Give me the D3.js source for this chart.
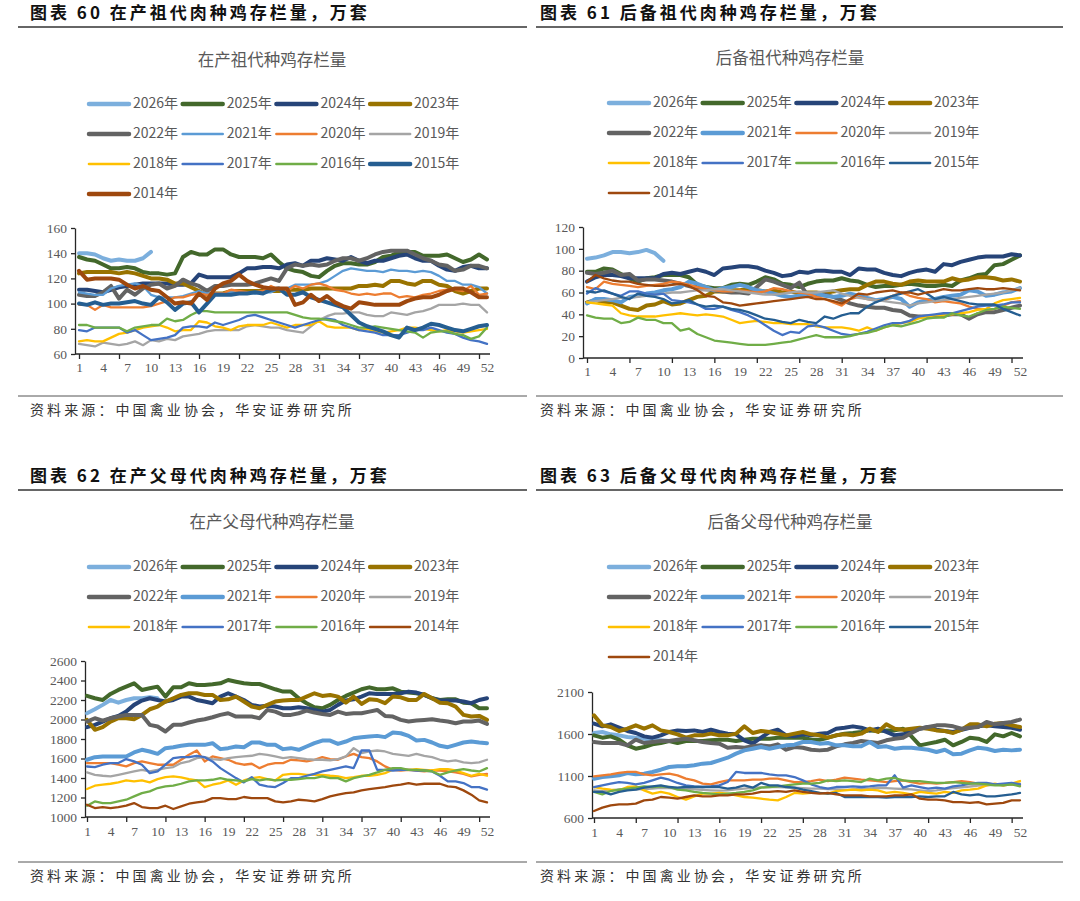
<!DOCTYPE html>
<html>
<head>
<meta charset="utf-8">
<title>肉种鸡存栏量</title>
<style>
  html, body { margin: 0; padding: 0; background: #fff; }
  svg { display: block; }
</style>
</head>
<body>
<svg width="1080" height="901"></svg>
<script src="https://d3js.org/d3.v7.min.js"></script>
<script>
// ---------- data ----------
var weeks = [1,2,3,4,5,6,7,8,9,10,11,12,13,14,15,16,17,18,19,20,21,22,23,24,25,26,
             27,28,29,30,31,32,33,34,35,36,37,38,39,40,41,42,43,44,45,46,47,48,49,50,51,52];
var yearLabels = ['2026年','2025年','2024年','2023年','2022年','2021年','2020年','2019年','2018年','2017年','2016年','2015年','2014年'];

// 在产祖代 (万套)
var gpProd2026 = [140,140,139,136,134,135,134,134,136,141];
var gpProd2025 = [137,135,134,131,128,128,129,128,125,124,124,123,124,137,141,139,139,143,143,139,137,137,137,136,139,133,128,126,125,122,121,126,130,132,132,131,131,133,137,138,141,141,141,138,138,138,139,136,133,135,139,135];
var gpProd2024 = [111,111,110,109,111,113,114,115,116,116,116,116,115,115,116,123,121,121,121,121,124,128,128,129,129,128,131,132,130,134,134,136,135,134,137,134,132,134,134,136,138,139,136,134,134,130,127,126,129,130,128,128];
var gpProd2023 = [124,125,125,125,125,124,125,124,122,120,120,119,116,116,113,110,107,108,108,110,110,110,110,110,110,110,111,111,111,112,112,112,112,112,112,114,114,115,114,118,118,116,115,118,118,115,114,110,108,110,112,112];
var gpProd2022 = [107,106,106,109,114,104,111,107,112,115,116,112,114,119,116,114,110,114,114,115,115,115,116,118,120,118,128,131,130,131,130,131,134,136,136,134,136,139,141,142,142,142,139,136,134,131,130,126,127,130,130,128];
var gpProd2021 = [109,108,107,107,112,114,115,116,114,107,105,105,105,106,108,110,108,108,108,109,109,109,108,109,109,112,112,115,115,115,116,118,122,126,128,127,126,126,125,127,126,126,125,126,125,122,118,118,115,115,113,108];
var gpProd2020 = [99,99,95,99,97,97,97,97,97,98,100,102,105,105,107,108,107,108,108,111,110,109,109,110,114,111,110,114,112,115,116,114,111,110,108,107,108,107,108,108,105,106,105,107,108,110,111,111,110,114,107,108];
var gpProd2019 = [68,67,66,69,68,67,68,70,67,71,70,72,71,74,75,76,78,79,79,79,79,82,83,82,81,81,79,78,77,82,87,90,92,92,93,93,91,90,90,93,92,91,93,94,96,99,99,99,100,99,99,93];
var gpProd2018 = [70,71,70,70,73,76,77,79,81,82,83,81,78,79,79,86,85,82,81,79,82,83,83,83,85,83,81,83,83,83,86,82,81,81,81,79,80,78,77,78,79,81,81,80,79,78,79,78,77,78,79,80];
var gpProd2017 = [79,78,81,81,81,81,77,79,75,71,72,73,75,81,82,82,81,85,83,85,87,90,91,89,87,85,83,81,83,85,87,88,87,83,81,79,78,77,75,75,75,77,79,79,81,79,77,76,73,71,70,68];
var gpProd2016 = [83,83,81,81,81,81,78,81,82,83,83,88,86,87,91,94,94,93,93,93,93,93,93,93,93,93,93,91,89,88,88,87,86,85,83,81,81,82,81,80,79,78,77,73,77,78,78,76,75,72,74,81];
var gpProd2015 = [100,99,101,99,100,100,101,102,100,99,105,101,95,100,101,93,100,107,107,107,108,108,109,108,111,112,107,107,109,105,103,101,99,97,91,85,82,80,78,75,73,81,79,81,84,83,81,79,78,80,82,83];
var gpProd2014 = [126,119,120,120,120,119,115,112,114,111,110,105,100,101,100,108,103,112,116,118,123,118,115,113,112,112,112,99,101,107,102,106,101,98,96,101,100,99,99,99,99,102,104,105,105,107,110,112,112,109,105,105];

// 后备祖代 (万套)
var gpRes2026 = [91,92,94,97,97,96,97,99,96,89];
var gpRes2025 = [79,79,82,81,77,73,70,73,74,76,76,76,74,67,65,64,64,67,68,67,70,74,72,68,67,65,68,70,71,71,73,71,70,67,65,66,66,67,68,67,66,66,67,66,71,73,76,77,85,86,90,94];
var gpRes2024 = [70,74,76,76,75,73,73,73,73,77,78,77,79,81,79,76,82,83,84,84,83,80,78,75,76,79,78,80,80,79,79,76,82,81,81,78,76,75,78,80,81,79,86,85,88,90,92,93,93,93,95,94];
var gpRes2023 = [51,53,51,51,48,45,44,48,49,52,49,50,53,56,57,61,61,62,62,63,62,61,62,60,61,59,60,60,59,61,62,63,63,67,70,70,68,67,70,71,70,70,70,73,71,72,74,74,73,71,72,70];
var gpRes2022 = [78,77,78,80,76,77,71,72,72,71,70,68,66,64,63,62,61,60,60,59,65,72,70,67,64,69,57,58,58,56,53,50,48,47,46,46,44,43,39,38,38,38,39,40,40,36,40,42,42,44,46,48];
var gpRes2021 = [50,54,54,53,51,56,57,59,60,62,63,65,70,68,65,62,64,65,67,65,62,61,59,57,56,57,58,59,57,56,57,59,57,55,53,54,56,54,47,51,53,54,56,57,58,62,61,57,58,60,61,64];
var gpRes2020 = [65,63,70,68,67,66,65,66,67,68,70,69,67,65,63,62,61,61,62,61,60,61,64,63,61,60,59,56,54,51,48,54,56,54,53,53,57,60,57,55,54,51,52,51,50,47,45,44,45,48,51,52];
var gpRes2019 = [51,52,53,54,55,55,56,57,58,59,60,60,61,62,62,63,63,62,61,60,59,58,58,59,60,61,60,60,61,62,59,57,55,54,53,52,51,50,48,50,51,52,53,54,55,56,57,58,59,60,62,64];
var gpRes2018 = [51,50,49,48,41,39,38,38,38,39,40,41,40,39,40,39,38,35,32,33,34,33,32,32,31,31,31,29,28,28,28,27,25,28,25,28,30,32,33,36,38,39,39,40,41,42,44,45,50,53,54,55];
var gpRes2017 = [59,64,61,59,57,61,61,59,58,59,53,52,51,49,45,45,47,44,42,39,35,30,25,21,24,23,29,30,28,25,22,21,22,24,27,30,32,32,34,38,39,40,41,41,43,45,47,48,48,49,51,51];
var gpRes2016 = [39,37,36,36,32,33,37,35,35,32,32,25,27,22,19,16,15,14,13,12,12,12,13,14,15,17,19,21,19,19,19,20,22,23,25,28,30,29,31,33,36,37,37,41,39,38,41,44,45,47,46,45];
var gpRes2015 = [61,60,62,59,56,54,59,57,56,54,50,51,53,49,47,48,47,45,44,42,39,36,35,33,32,35,33,32,38,36,39,41,41,47,51,54,57,59,61,63,59,54,56,54,52,50,49,49,49,45,42,39];
var gpRes2014 = [70,76,73,71,70,70,68,67,66,66,67,68,66,62,57,56,51,50,48,49,50,51,52,53,54,55,56,54,54,52,50,54,59,58,60,61,62,60,60,58,60,61,63,62,62,63,64,63,63,64,63,62];

// 在产父母代 (万套)
var ppProd2026 = [2064,2105,2150,2200,2173,2200,2218,2218,2228,2218];
var ppProd2025 = [2242,2218,2200,2262,2303,2337,2371,2303,2320,2337,2235,2330,2330,2371,2354,2354,2361,2371,2405,2388,2371,2364,2364,2337,2310,2286,2286,2218,2167,2126,2115,2150,2200,2242,2276,2310,2330,2310,2310,2320,2286,2276,2269,2252,2218,2200,2207,2207,2173,2167,2115,2115];
var ppProd2024 = [1921,1945,1979,2013,2037,2081,2150,2194,2218,2200,2184,2200,2235,2235,2200,2184,2167,2235,2269,2235,2200,2150,2133,2140,2133,2115,2115,2126,2115,2098,2081,2098,2150,2194,2207,2235,2269,2262,2262,2262,2269,2286,2276,2252,2218,2194,2194,2194,2184,2167,2200,2218];
var ppProd2023 = [1996,1894,1921,1979,2013,2013,2003,2047,2105,2133,2184,2218,2252,2269,2269,2252,2252,2200,2207,2235,2184,2133,2115,2150,2184,2194,2200,2200,2235,2269,2242,2252,2235,2173,2235,2160,2207,2200,2167,2235,2228,2200,2200,2262,2218,2173,2167,2133,2047,2030,2037,1996];
var ppProd2022 = [1979,2013,1989,2013,2030,2047,2047,2047,1945,1928,1877,1945,1945,1969,1989,2003,2023,2047,2064,2030,2030,2030,2013,2098,2081,2047,2047,2064,2091,2071,2057,2047,2081,2057,2064,2064,2081,2098,2037,2030,1996,1979,1989,1996,2003,1989,1979,1962,1979,1979,1989,1955];
var ppProd2021 = [1587,1614,1621,1621,1621,1621,1662,1689,1672,1648,1706,1716,1730,1740,1740,1740,1757,1696,1706,1723,1716,1764,1764,1740,1740,1696,1706,1689,1723,1757,1784,1784,1750,1774,1808,1819,1825,1832,1819,1866,1859,1832,1784,1791,1764,1730,1716,1740,1764,1774,1764,1757];
var ppProd2020 = [1553,1553,1553,1553,1536,1519,1553,1570,1553,1536,1536,1536,1587,1638,1682,1570,1621,1604,1587,1553,1536,1546,1501,1536,1553,1553,1587,1580,1570,1587,1614,1594,1587,1621,1648,1614,1604,1570,1519,1484,1477,1484,1477,1467,1477,1477,1467,1457,1443,1416,1433,1443];
var ppProd2019 = [1457,1433,1423,1416,1433,1450,1467,1484,1467,1484,1501,1512,1553,1570,1604,1614,1594,1587,1604,1614,1621,1628,1648,1638,1621,1604,1614,1604,1594,1587,1587,1580,1594,1621,1706,1655,1672,1682,1672,1648,1638,1628,1648,1628,1614,1587,1570,1580,1560,1553,1560,1587];
var ppProd2018 = [1287,1321,1331,1341,1355,1375,1365,1375,1355,1389,1409,1416,1406,1389,1375,1307,1331,1348,1375,1331,1375,1399,1409,1389,1375,1433,1443,1443,1433,1433,1433,1423,1416,1399,1409,1423,1423,1433,1450,1484,1491,1484,1491,1484,1477,1491,1491,1477,1450,1423,1443,1423];
var ppProd2017 = [1518,1512,1536,1553,1553,1594,1570,1536,1450,1467,1536,1604,1614,1614,1628,1614,1570,1501,1450,1399,1355,1409,1331,1314,1307,1348,1399,1399,1423,1443,1467,1484,1501,1518,1501,1682,1682,1484,1484,1477,1484,1484,1477,1477,1467,1423,1365,1365,1348,1307,1307,1280];
var ppProd2016 = [1116,1160,1143,1143,1160,1177,1211,1245,1263,1297,1314,1321,1341,1365,1375,1375,1382,1399,1382,1375,1365,1389,1375,1389,1375,1382,1382,1389,1399,1399,1416,1399,1399,1365,1399,1416,1433,1457,1484,1501,1501,1484,1484,1477,1467,1433,1457,1477,1491,1477,1467,1501];
var ppProd2014 = [1126,1092,1102,1092,1102,1116,1143,1102,1092,1092,1116,1082,1109,1136,1150,1160,1194,1194,1184,1184,1205,1194,1194,1194,1160,1150,1160,1177,1170,1160,1184,1211,1229,1245,1252,1273,1287,1297,1307,1321,1331,1348,1331,1341,1341,1341,1314,1307,1273,1229,1170,1150];

// 后备父母代 (万套)
var ppRes2026 = [1612,1624,1596,1584,1564,1556,1544,1532,1525,1517];
var ppRes2025 = [1584,1556,1572,1532,1465,1425,1445,1477,1493,1517,1493,1517,1517,1517,1525,1532,1532,1517,1532,1544,1544,1544,1556,1556,1556,1556,1532,1532,1556,1584,1604,1612,1624,1643,1636,1643,1643,1663,1572,1465,1485,1505,1532,1465,1505,1556,1544,1505,1596,1572,1612,1572];
var ppRes2024 = [1723,1691,1715,1675,1636,1612,1572,1556,1584,1624,1643,1636,1643,1624,1651,1624,1604,1596,1525,1485,1556,1624,1651,1584,1572,1596,1584,1604,1612,1663,1675,1691,1675,1643,1663,1624,1584,1596,1624,1663,1683,1651,1636,1624,1651,1675,1691,1703,1691,1683,1675,1651];
var ppRes2023 = [1822,1703,1683,1636,1663,1703,1663,1703,1643,1624,1596,1556,1584,1584,1604,1584,1584,1604,1691,1612,1636,1624,1604,1584,1604,1624,1596,1584,1556,1584,1596,1584,1604,1663,1624,1715,1663,1651,1663,1675,1663,1643,1636,1612,1651,1715,1715,1691,1723,1731,1703,1683];
var ppRes2022 = [1505,1493,1493,1493,1465,1532,1493,1505,1517,1517,1532,1544,1525,1505,1493,1485,1437,1445,1437,1453,1465,1453,1477,1413,1445,1437,1413,1405,1413,1453,1477,1493,1517,1505,1493,1525,1544,1556,1612,1663,1683,1703,1703,1691,1663,1675,1683,1743,1715,1731,1743,1771];
var ppRes2021 = [1068,1088,1096,1108,1136,1120,1128,1148,1175,1207,1215,1215,1227,1247,1255,1286,1318,1366,1405,1425,1445,1425,1445,1465,1473,1505,1505,1485,1493,1465,1465,1453,1453,1505,1445,1453,1425,1437,1437,1425,1413,1386,1413,1358,1366,1405,1437,1425,1398,1413,1405,1413];
var ppRes2020 = [1096,1108,1120,1136,1148,1148,1120,1108,1120,1128,1108,1068,1048,1009,1001,1028,1048,1048,1048,1056,1056,1068,1068,1048,1028,1028,1040,1056,1040,1056,1080,1068,1056,1048,1040,1028,1040,1048,1028,1009,1017,1009,1017,1028,1040,1028,1009,1009,1001,989,1001,989];
var ppRes2019 = [930,920,930,940,950,940,945,950,960,955,950,945,940,935,930,925,930,940,950,960,965,970,968,965,960,955,950,950,945,940,935,940,945,950,960,955,950,945,940,930,920,930,945,955,965,975,985,990,995,1000,1005,1010];
var ppRes2018 = [969,949,937,929,969,977,929,890,910,890,850,818,858,890,890,898,890,870,850,842,830,818,810,850,898,890,898,898,890,921,929,937,929,937,929,898,910,898,882,910,898,890,910,898,929,937,949,989,1009,989,1009,1040];
var ppRes2017 = [969,989,1009,1028,1017,1001,1017,1048,1080,1056,1017,989,977,969,977,989,1028,1148,1136,1136,1136,1120,1108,1108,1088,1048,1001,969,949,969,969,977,969,977,989,989,1108,961,989,969,949,961,949,977,989,1009,1017,1017,1001,1009,1017,1001];
var ppRes2016 = [910,882,921,937,949,961,977,969,977,969,937,929,910,898,890,882,890,898,910,929,961,969,977,989,1001,1009,1009,1017,1048,1040,1048,1040,1028,1068,1048,1068,1076,1048,1040,1040,1028,1017,1017,1028,1017,1009,1009,1001,989,989,1001,977];
var ppRes2015 = [910,910,882,910,929,937,961,977,989,969,961,969,969,969,969,969,949,961,989,961,1017,989,989,969,961,937,921,898,890,898,850,850,850,850,850,842,850,850,850,858,850,858,858,910,882,870,882,858,858,870,882,898];
var ppRes2014 = [683,723,751,763,763,771,810,818,850,842,830,850,870,858,858,870,870,882,882,890,910,910,921,910,929,910,898,890,898,882,870,870,870,858,858,858,870,870,882,830,818,818,810,790,790,779,790,763,771,779,810,810];

// ---------- styles ----------
var colorOf = {
  '2026年': '#7cafdd', '2025年': '#43682b', '2024年': '#264478', '2023年': '#997300',
  '2022年': '#636363', '2021年': '#5b9bd5', '2020年': '#ed7d31', '2019年': '#a5a5a5',
  '2018年': '#ffc000', '2017年': '#4472c4', '2016年': '#70ad47', '2015年': '#255e91',
  '2014年': '#9e480e'
};

var panels = [
  {
    header: '图表 60 在产祖代肉种鸡存栏量，万套', hx: 30, hy: 14, ruleX: [18, 527], ruleY: 27,
    title: '在产祖代种鸡存栏量', tx: 272, ty: 62,
    legX: 89, legY: 104,
    axisX: 75, axisEnd: 490, px0: 79, px1: 487, yTop: 228, yBot: 354, domain: [60, 160],
    yTicks: [60, 80, 100, 120, 140, 160], xLabelY: 369,
    srcY: 411, srcRule: 396,
    thick: ['2026年','2025年','2024年','2023年','2022年','2015年','2014年'],
    series: [
      ['2026年', gpProd2026], ['2025年', gpProd2025], ['2024年', gpProd2024], ['2023年', gpProd2023],
      ['2022年', gpProd2022], ['2021年', gpProd2021], ['2020年', gpProd2020], ['2019年', gpProd2019],
      ['2018年', gpProd2018], ['2017年', gpProd2017], ['2016年', gpProd2016], ['2015年', gpProd2015],
      ['2014年', gpProd2014]
    ]
  },
  {
    header: '图表 61 后备祖代肉种鸡存栏量，万套', hx: 540, hy: 14, ruleX: [536, 1063], ruleY: 27,
    title: '后备祖代种鸡存栏量', tx: 790, ty: 60,
    legX: 609, legY: 103,
    axisX: 583, axisEnd: 1023, px0: 587, px1: 1020, yTop: 227, yBot: 358, domain: [0, 120],
    yTicks: [0, 20, 40, 60, 80, 100, 120], xLabelY: 373,
    srcY: 411, srcRule: 396,
    thick: ['2026年','2025年','2024年','2023年','2022年','2021年'],
    series: [
      ['2026年', gpRes2026], ['2025年', gpRes2025], ['2024年', gpRes2024], ['2023年', gpRes2023],
      ['2022年', gpRes2022], ['2021年', gpRes2021], ['2020年', gpRes2020], ['2019年', gpRes2019],
      ['2018年', gpRes2018], ['2017年', gpRes2017], ['2016年', gpRes2016], ['2015年', gpRes2015],
      ['2014年', gpRes2014]
    ]
  },
  {
    header: '图表 62 在产父母代肉种鸡存栏量，万套', hx: 30, hy: 477, ruleX: [18, 527], ruleY: 490,
    title: '在产父母代种鸡存栏量', tx: 272, ty: 524,
    legX: 89, legY: 567,
    axisX: 85, axisEnd: 490, px0: 87, px1: 487, yTop: 661, yBot: 817, domain: [1000, 2600],
    yTicks: [1000, 1200, 1400, 1600, 1800, 2000, 2200, 2400, 2600], xLabelY: 833,
    srcY: 877, srcRule: 862,
    thick: ['2026年','2025年','2024年','2023年','2022年','2021年'],
    series: [
      ['2026年', ppProd2026], ['2025年', ppProd2025], ['2024年', ppProd2024], ['2023年', ppProd2023],
      ['2022年', ppProd2022], ['2021年', ppProd2021], ['2020年', ppProd2020], ['2019年', ppProd2019],
      ['2018年', ppProd2018], ['2017年', ppProd2017], ['2016年', ppProd2016], ['2014年', ppProd2014]
    ]
  },
  {
    header: '图表 63 后备父母代肉种鸡存栏量，万套', hx: 540, hy: 477, ruleX: [536, 1063], ruleY: 490,
    title: '后备父母代种鸡存栏量', tx: 790, ty: 524,
    legX: 609, legY: 567,
    axisX: 592, axisEnd: 1023, px0: 594, px1: 1020, yTop: 692, yBot: 818, domain: [600, 2100],
    yTicks: [600, 1100, 1600, 2100], xLabelY: 834,
    srcY: 877, srcRule: 862,
    thick: ['2026年','2025年','2024年','2023年','2022年','2021年'],
    series: [
      ['2026年', ppRes2026], ['2025年', ppRes2025], ['2024年', ppRes2024], ['2023年', ppRes2023],
      ['2022年', ppRes2022], ['2021年', ppRes2021], ['2020年', ppRes2020], ['2019年', ppRes2019],
      ['2018年', ppRes2018], ['2017年', ppRes2017], ['2016年', ppRes2016], ['2015年', ppRes2015],
      ['2014年', ppRes2014]
    ]
  }
];

var svg = d3.select('svg');
var cjk = '"Noto Sans CJK SC", "Noto Sans", sans-serif';
var serif = '"Liberation Serif", "DejaVu Serif", serif';
var axisColor = '#262626';
var textGray = '#595959';

panels.forEach(function(p) {
  var g = svg.append('g');

  // header + rules
  g.append('text')
    .attr('x', p.hx).attr('y', p.hy)
    .attr('dominant-baseline', 'middle')
    .attr('font-family', cjk).attr('font-weight', 700)
    .attr('font-size', 17).attr('letter-spacing', 3)
    .attr('fill', '#111')
    .text(p.header);
  g.append('line')
    .attr('x1', p.ruleX[0]).attr('x2', p.ruleX[1])
    .attr('y1', p.ruleY).attr('y2', p.ruleY)
    .attr('stroke', '#333').attr('stroke-width', 1.3);
  g.append('line')
    .attr('x1', p.ruleX[0]).attr('x2', p.ruleX[1])
    .attr('y1', p.srcRule).attr('y2', p.srcRule)
    .attr('stroke', '#555').attr('stroke-width', 1);
  g.append('text')
    .attr('x', p.hx).attr('y', p.srcY)
    .attr('dominant-baseline', 'middle')
    .attr('font-family', cjk).attr('font-size', 14).attr('letter-spacing', 3.1)
    .attr('fill', '#333')
    .text('资料来源：中国禽业协会，华安证券研究所');

  // chart title
  g.append('text')
    .attr('x', p.tx).attr('y', p.ty)
    .attr('text-anchor', 'middle').attr('dominant-baseline', 'middle')
    .attr('font-family', cjk).attr('font-size', 16.5)
    .attr('fill', textGray)
    .text(p.title);

  // legend
  var leg = g.selectAll('g.leg')
    .data(p.series)
    .enter().append('g')
    .attr('transform', function(d, i) {
      return 'translate(' + (p.legX + (i % 4) * 93.7) + ',' + (p.legY + Math.floor(i / 4) * 30) + ')';
    });
  leg.append('line')
    .attr('x1', 0).attr('x2', 40)
    .attr('stroke', function(d) { return colorOf[d[0]]; })
    .attr('stroke-width', function(d) { return p.thick.indexOf(d[0]) >= 0 ? 4.5 : 2.6; })
    .attr('stroke-linecap', 'round');
  leg.append('text')
    .attr('x', 44).attr('y', 0)
    .attr('dominant-baseline', 'middle')
    .attr('font-family', cjk).attr('font-size', 14)
    .attr('fill', textGray)
    .text(function(d) { return d[0]; });

  // scales
  var x = d3.scalePoint().domain(weeks).range([p.px0, p.px1]);
  var y = d3.scaleLinear().domain(p.domain).range([p.yBot, p.yTop]);

  // y axis
  var yAxis = g.append('g')
    .attr('transform', 'translate(' + p.axisX + ',0)')
    .call(d3.axisLeft(y).tickValues(p.yTicks).tickFormat(d3.format('d'))
      .tickSize(4).tickSizeOuter(0).tickPadding(4));
  yAxis.select('.domain').attr('stroke', axisColor).attr('stroke-width', 1.3);
  yAxis.selectAll('.tick line').attr('stroke', axisColor).attr('stroke-width', 1.3);
  yAxis.selectAll('.tick text')
    .attr('font-family', serif).attr('font-size', 13.5).attr('fill', textGray);

  // x axis: line, tick marks every 5 weeks, labels every 3 weeks
  g.append('line')
    .attr('x1', p.axisX).attr('x2', p.axisEnd)
    .attr('y1', p.yBot).attr('y2', p.yBot)
    .attr('stroke', axisColor).attr('stroke-width', 1.3);
  var xTicks = g.append('g')
    .attr('transform', 'translate(0,' + p.yBot + ')')
    .call(d3.axisBottom(x)
      .tickValues(weeks.filter(function(w) { return (w - 1) % 5 === 0; }))
      .tickSize(5).tickSizeOuter(0).tickFormat(''));
  xTicks.select('.domain').remove();
  xTicks.selectAll('.tick line').attr('stroke', axisColor).attr('stroke-width', 1.3);

  var xLabels = g.append('g')
    .attr('transform', 'translate(0,' + p.yBot + ')')
    .call(d3.axisBottom(x)
      .tickValues(weeks.filter(function(w) { return (w - 1) % 3 === 0; }))
      .tickSize(0).tickPadding(0));
  xLabels.select('.domain').remove();
  xLabels.selectAll('.tick text')
    .attr('y', p.xLabelY - p.yBot).attr('dy', null)
    .attr('dominant-baseline', 'middle')
    .attr('font-family', serif).attr('font-size', 13.5).attr('fill', textGray);

  // series lines (later ones on top)
  var line = d3.line()
    .x(function(d, i) { return x(weeks[i]); })
    .y(function(d) { return y(d); });

  g.append('g').selectAll('path')
    .data(p.series)
    .enter().append('path')
    .attr('d', function(d) { return line(d[1]); })
    .attr('fill', 'none')
    .attr('stroke', function(d) { return colorOf[d[0]]; })
    .attr('stroke-width', function(d) { return p.thick.indexOf(d[0]) >= 0 ? 4 : 2.3; })
    .attr('stroke-linejoin', 'round')
    .attr('stroke-linecap', 'round');
});
</script>
</body>
</html>
